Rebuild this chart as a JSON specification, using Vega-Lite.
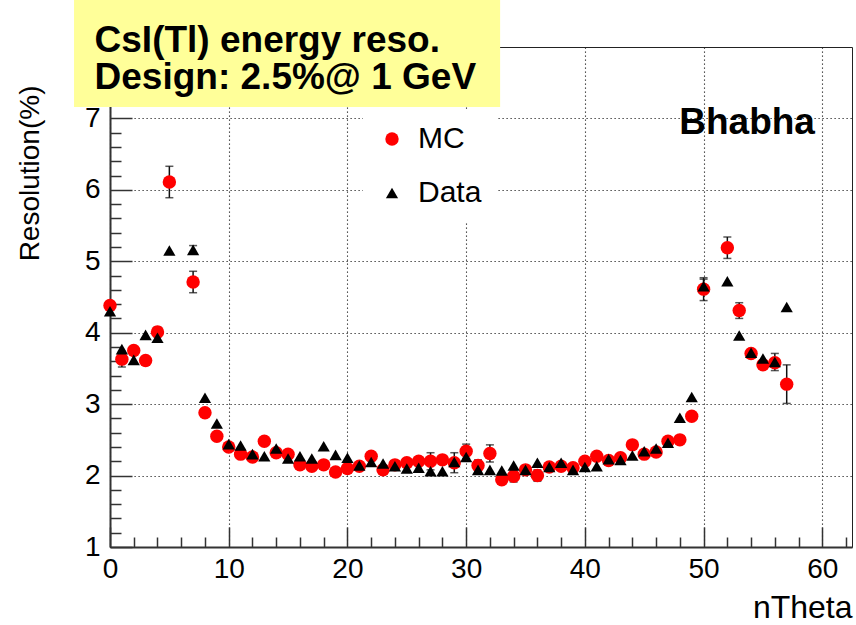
{
  "$schema": "https://vega.github.io/schema/vega-lite/v6.json",
  "width": 742,
  "height": 500,
  "autosize": {"type": "none"},
  "padding": {"left": 110, "top": 47, "right": 4, "bottom": 78},
  "background": "white",
  "config": {
    "font": "Liberation Sans",
    "view": {"stroke": "#222", "strokeWidth": 1},
    "axis": {
      "labelFont": "Liberation Sans",
      "titleFont": "Liberation Sans",
      "labelColor": "#000",
      "titleColor": "#000",
      "titleFontWeight": "normal",
      "labelFlush": false,
      "labelOverlap": false,
      "labelBound": false,
      "domainColor": "#333",
      "domainWidth": 2,
      "tickColor": "#333",
      "tickWidth": 1.5,
      "gridColor": "#222",
      "gridDash": [1.2, 2.8],
      "gridWidth": 1.1
    },
    "legend": {
      "labelFont": "Liberation Sans"
    }
  },
  "datasets": {
    "one": [{"k": 1}],
    "pts": [
      {"n": 0, "s": "MC", "v": 4.38, "e": 0.05},
      {"n": 1, "s": "MC", "v": 3.63, "e": 0.11},
      {"n": 2, "s": "MC", "v": 3.75, "e": 0.04},
      {"n": 3, "s": "MC", "v": 3.61, "e": 0},
      {"n": 4, "s": "MC", "v": 4.01, "e": 0.07},
      {"n": 5, "s": "MC", "v": 6.11, "e": 0.22},
      {"n": 7, "s": "MC", "v": 4.71, "e": 0.15},
      {"n": 8, "s": "MC", "v": 2.88, "e": 0},
      {"n": 9, "s": "MC", "v": 2.55, "e": 0},
      {"n": 10, "s": "MC", "v": 2.40, "e": 0},
      {"n": 11, "s": "MC", "v": 2.30, "e": 0},
      {"n": 12, "s": "MC", "v": 2.26, "e": 0},
      {"n": 13, "s": "MC", "v": 2.48, "e": 0},
      {"n": 14, "s": "MC", "v": 2.32, "e": 0},
      {"n": 15, "s": "MC", "v": 2.30, "e": 0.05},
      {"n": 16, "s": "MC", "v": 2.15, "e": 0},
      {"n": 17, "s": "MC", "v": 2.13, "e": 0},
      {"n": 18, "s": "MC", "v": 2.15, "e": 0},
      {"n": 19, "s": "MC", "v": 2.05, "e": 0},
      {"n": 20, "s": "MC", "v": 2.10, "e": 0},
      {"n": 21, "s": "MC", "v": 2.13, "e": 0},
      {"n": 22, "s": "MC", "v": 2.27, "e": 0.06},
      {"n": 23, "s": "MC", "v": 2.08, "e": 0},
      {"n": 24, "s": "MC", "v": 2.15, "e": 0},
      {"n": 25, "s": "MC", "v": 2.18, "e": 0},
      {"n": 26, "s": "MC", "v": 2.20, "e": 0.06},
      {"n": 27, "s": "MC", "v": 2.20, "e": 0.12},
      {"n": 28, "s": "MC", "v": 2.22, "e": 0},
      {"n": 29, "s": "MC", "v": 2.18, "e": 0.14},
      {"n": 30, "s": "MC", "v": 2.34, "e": 0.10},
      {"n": 31, "s": "MC", "v": 2.14, "e": 0.08},
      {"n": 32, "s": "MC", "v": 2.31, "e": 0.12},
      {"n": 33, "s": "MC", "v": 1.94, "e": 0},
      {"n": 34, "s": "MC", "v": 1.99, "e": 0.08},
      {"n": 35, "s": "MC", "v": 2.08, "e": 0.06},
      {"n": 36, "s": "MC", "v": 2.00, "e": 0.08},
      {"n": 37, "s": "MC", "v": 2.12, "e": 0},
      {"n": 38, "s": "MC", "v": 2.13, "e": 0},
      {"n": 39, "s": "MC", "v": 2.11, "e": 0.04},
      {"n": 40, "s": "MC", "v": 2.20, "e": 0},
      {"n": 41, "s": "MC", "v": 2.27, "e": 0},
      {"n": 42, "s": "MC", "v": 2.21, "e": 0},
      {"n": 43, "s": "MC", "v": 2.25, "e": 0},
      {"n": 44, "s": "MC", "v": 2.43, "e": 0},
      {"n": 45, "s": "MC", "v": 2.30, "e": 0},
      {"n": 46, "s": "MC", "v": 2.33, "e": 0},
      {"n": 47, "s": "MC", "v": 2.48, "e": 0},
      {"n": 48, "s": "MC", "v": 2.50, "e": 0},
      {"n": 49, "s": "MC", "v": 2.83, "e": 0},
      {"n": 50, "s": "MC", "v": 4.61, "e": 0.16},
      {"n": 52, "s": "MC", "v": 5.19, "e": 0.15},
      {"n": 53, "s": "MC", "v": 4.31, "e": 0.11},
      {"n": 54, "s": "MC", "v": 3.71, "e": 0},
      {"n": 55, "s": "MC", "v": 3.55, "e": 0},
      {"n": 56, "s": "MC", "v": 3.58, "e": 0.05},
      {"n": 57, "s": "MC", "v": 3.28, "e": 0.27},
      {"n": 0, "s": "Data", "v": 4.30, "e": 0},
      {"n": 1, "s": "Data", "v": 3.77, "e": 0},
      {"n": 2, "s": "Data", "v": 3.62, "e": 0},
      {"n": 3, "s": "Data", "v": 3.97, "e": 0},
      {"n": 4, "s": "Data", "v": 3.93, "e": 0},
      {"n": 5, "s": "Data", "v": 5.15, "e": 0},
      {"n": 7, "s": "Data", "v": 5.16, "e": 0.06},
      {"n": 8, "s": "Data", "v": 3.09, "e": 0},
      {"n": 9, "s": "Data", "v": 2.73, "e": 0},
      {"n": 10, "s": "Data", "v": 2.44, "e": 0},
      {"n": 11, "s": "Data", "v": 2.42, "e": 0},
      {"n": 12, "s": "Data", "v": 2.30, "e": 0},
      {"n": 13, "s": "Data", "v": 2.27, "e": 0},
      {"n": 14, "s": "Data", "v": 2.38, "e": 0},
      {"n": 15, "s": "Data", "v": 2.24, "e": 0},
      {"n": 16, "s": "Data", "v": 2.27, "e": 0},
      {"n": 17, "s": "Data", "v": 2.24, "e": 0},
      {"n": 18, "s": "Data", "v": 2.41, "e": 0},
      {"n": 19, "s": "Data", "v": 2.29, "e": 0},
      {"n": 20, "s": "Data", "v": 2.25, "e": 0},
      {"n": 21, "s": "Data", "v": 2.14, "e": 0},
      {"n": 22, "s": "Data", "v": 2.19, "e": 0},
      {"n": 23, "s": "Data", "v": 2.17, "e": 0},
      {"n": 24, "s": "Data", "v": 2.13, "e": 0},
      {"n": 25, "s": "Data", "v": 2.10, "e": 0},
      {"n": 26, "s": "Data", "v": 2.11, "e": 0},
      {"n": 27, "s": "Data", "v": 2.06, "e": 0},
      {"n": 28, "s": "Data", "v": 2.06, "e": 0},
      {"n": 29, "s": "Data", "v": 2.19, "e": 0},
      {"n": 30, "s": "Data", "v": 2.26, "e": 0},
      {"n": 31, "s": "Data", "v": 2.08, "e": 0},
      {"n": 32, "s": "Data", "v": 2.08, "e": 0},
      {"n": 33, "s": "Data", "v": 2.07, "e": 0},
      {"n": 34, "s": "Data", "v": 2.14, "e": 0},
      {"n": 35, "s": "Data", "v": 2.08, "e": 0},
      {"n": 36, "s": "Data", "v": 2.18, "e": 0},
      {"n": 37, "s": "Data", "v": 2.12, "e": 0},
      {"n": 38, "s": "Data", "v": 2.18, "e": 0},
      {"n": 39, "s": "Data", "v": 2.08, "e": 0},
      {"n": 40, "s": "Data", "v": 2.12, "e": 0},
      {"n": 41, "s": "Data", "v": 2.13, "e": 0},
      {"n": 42, "s": "Data", "v": 2.23, "e": 0},
      {"n": 43, "s": "Data", "v": 2.22, "e": 0},
      {"n": 44, "s": "Data", "v": 2.28, "e": 0},
      {"n": 45, "s": "Data", "v": 2.34, "e": 0},
      {"n": 46, "s": "Data", "v": 2.38, "e": 0},
      {"n": 47, "s": "Data", "v": 2.46, "e": 0},
      {"n": 48, "s": "Data", "v": 2.81, "e": 0},
      {"n": 49, "s": "Data", "v": 3.10, "e": 0},
      {"n": 50, "s": "Data", "v": 4.65, "e": 0.10},
      {"n": 52, "s": "Data", "v": 4.72, "e": 0},
      {"n": 53, "s": "Data", "v": 3.96, "e": 0},
      {"n": 54, "s": "Data", "v": 3.72, "e": 0},
      {"n": 55, "s": "Data", "v": 3.64, "e": 0},
      {"n": 56, "s": "Data", "v": 3.59, "e": 0.12},
      {"n": 57, "s": "Data", "v": 4.36, "e": 0}
    ]
  },
  "data": {"name": "pts"},
  "resolve": {"axis": {"x": "independent", "y": "independent"}},
  "layer": [
    {
      "mark": {"type": "point", "opacity": 0},
      "encoding": {
        "x": {"field": "n", "type": "quantitative",
          "scale": {"domain": [0, 62.5], "nice": false, "zero": false},
          "axis": {"orient": "bottom", "values": [2,4,6,8,12,14,16,18,22,24,26,28,32,34,36,38,42,44,46,48,52,54,56,58,62],
            "labels": false, "domain": false, "grid": false, "tickSize": -10, "title": null}},
        "y": {"field": "v", "type": "quantitative",
          "scale": {"domain": [1, 8], "nice": false, "zero": false},
          "axis": {"orient": "left", "values": [1.2,1.4,1.6,1.8,2.2,2.4,2.6,2.8,3.2,3.4,3.6,3.8,4.2,4.4,4.6,4.8,5.2,5.4,5.6,5.8,6.2,6.4,6.6,6.8,7.2,7.4,7.6,7.8],
            "labels": false, "domain": false, "grid": false, "tickSize": -11, "title": null}}
      }
    },
    {
      "transform": [{"filter": "datum.e > 0"}, {"calculate": "datum.v - datum.e", "as": "lo"}, {"calculate": "datum.v + datum.e", "as": "hi"}],
      "layer": [
        {
          "mark": {"type": "rule", "color": "#111", "strokeWidth": 1.5},
          "encoding": {
            "x": {"field": "n", "type": "quantitative", "axis": null},
            "y": {"field": "lo", "type": "quantitative", "axis": null},
            "y2": {"field": "hi"}
          }
        },
        {
          "mark": {"type": "tick", "orient": "horizontal", "color": "#111", "size": 8, "thickness": 1.5},
          "encoding": {
            "x": {"field": "n", "type": "quantitative", "axis": null},
            "y": {"field": "lo", "type": "quantitative", "axis": null}
          }
        },
        {
          "mark": {"type": "tick", "orient": "horizontal", "color": "#111", "size": 8, "thickness": 1.5},
          "encoding": {
            "x": {"field": "n", "type": "quantitative", "axis": null},
            "y": {"field": "hi", "type": "quantitative", "axis": null}
          }
        }
      ]
    },
    {
      "mark": {"type": "point", "filled": true, "opacity": 1, "strokeWidth": 0},
      "encoding": {
        "x": {"field": "n", "type": "quantitative",
          "axis": {"orient": "bottom", "values": [0,10,20,30,40,50,60], "grid": true, "tickSize": -20,
            "labelFontSize": 28, "labelPadding": 28, "title": "nTheta", "titleFontSize": 32,
            "titleAnchor": "end", "titleAlign": "right", "titleX": 742, "titleY": 70, "titleBaseline": "alphabetic"}},
        "y": {"field": "v", "type": "quantitative",
          "axis": {"orient": "left", "values": [1,2,3,4,5,6,7], "grid": true, "tickSize": -22,
            "labelFontSize": 28, "labelPadding": 32, "title": "Resolution(%)", "titleFontSize": 28,
            "titleAngle": -90, "titleAlign": "right", "titleBaseline": "middle", "titleX": -80, "titleY": 38}},
        "color": {"field": "s", "type": "nominal",
          "scale": {"domain": ["MC", "Data"], "range": ["#ff0000", "#000000"]},
          "legend": {"title": null, "orient": "none", "legendX": 253, "legendY": 63, "fillColor": "white",
            "padding": 14, "labelFontSize": 30, "symbolSize": 170, "labelOffset": 11, "rowPadding": 24,
            "labelExpr": "datum.label + '\u2003\u2003\u2003'"}},
        "shape": {"field": "s", "type": "nominal",
          "scale": {"domain": ["MC", "Data"], "range": ["circle", "triangle-up"]}},
        "size": {"field": "s", "type": "nominal",
          "scale": {"domain": ["MC", "Data"], "range": [180, 150]}, "legend": null}
      }
    },
    {
      "data": {"name": "one"},
      "mark": {"type": "text", "align": "left", "baseline": "alphabetic", "fontSize": 37, "fontWeight": "bold", "color": "#000"},
      "encoding": {
        "x": {"datum": 47.95, "type": "quantitative", "axis": null},
        "y": {"datum": 6.78, "type": "quantitative", "axis": null},
        "text": {"value": "Bhabha"}
      }
    },
    {
      "data": {"name": "one"},
      "mark": {"type": "rect", "color": "#ffff99", "opacity": 1},
      "encoding": {
        "x": {"datum": -3.03, "type": "quantitative", "axis": null},
        "x2": {"datum": 32.86},
        "y": {"datum": 8.7, "type": "quantitative", "axis": null},
        "y2": {"datum": 7.16}
      }
    },
    {
      "data": {"name": "one"},
      "mark": {"type": "text", "align": "left", "baseline": "alphabetic", "fontSize": 37, "fontWeight": "bold", "color": "#000", "lineHeight": 37},
      "encoding": {
        "x": {"datum": -1.3, "type": "quantitative", "axis": null},
        "y": {"datum": 7.93, "type": "quantitative", "axis": null},
        "text": {"value": ["CsI(Tl) energy reso.", "Design: 2.5%@ 1 GeV"]}
      }
    }
  ]
}
